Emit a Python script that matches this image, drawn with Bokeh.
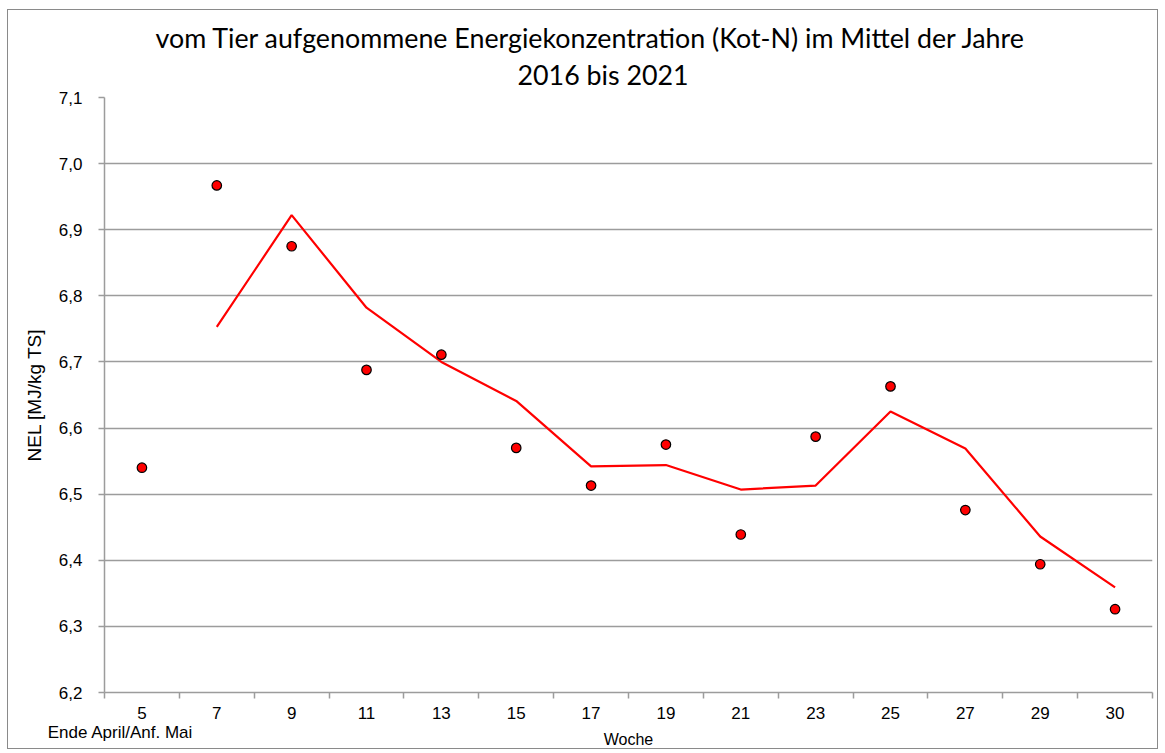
from bokeh.plotting import figure
from bokeh.models import (FixedTicker, CustomJSTickFormatter, Range1d, Title,
                          ColumnDataSource, LinearAxis)
from bokeh.embed import file_html
from bokeh.resources import INLINE

# ---- data ----
weeks = ["5", "7", "9", "11", "13", "15", "17", "19", "21", "23", "25", "27", "29", "30"]
nel_values = [6.540, 6.967, 6.875, 6.688, 6.711, 6.570, 6.513, 6.575,
              6.439, 6.587, 6.663, 6.476, 6.394, 6.326]
# gleitender Durchschnitt (2 Perioden), ab Woche 7
trend_weeks = ["7", "9", "11", "13", "15", "17", "19", "21", "23", "25", "27", "29", "30"]
trend_values = [6.753, 6.922, 6.782, 6.700, 6.641, 6.542, 6.544, 6.507,
                6.513, 6.625, 6.569, 6.436, 6.359]
y_ticks = [6.2, 6.3, 6.4, 6.5, 6.6, 6.7, 6.8, 6.9, 7.0, 7.1]

title_line1 = "vom Tier aufgenommene Energiekonzentration (Kot-N) im Mittel der Jahre"
title_line2 = "2016 bis 2021"
x_label = "Woche"
y_label = "NEL [MJ/kg TS]"
start_note = "Ende April/Anf. Mai"

# positions of categories on a numeric axis (category centres)
pos = {w: i + 0.5 for i, w in enumerate(weeks)}
src_pts = ColumnDataSource(dict(x=[pos[w] for w in weeks], y=nel_values))
src_line = ColumnDataSource(dict(x=[pos[w] for w in trend_weeks], y=trend_values))

W, H = 1151, 740
BL, BR, BT, BB = 96, 7, 87, 57
p = figure(width=W, height=H, output_backend="svg", toolbar_location=None,
           x_range=Range1d(0, len(weeks)), y_range=Range1d(6.2, 7.1),
           min_border_left=BL, min_border_right=BR, min_border_top=BT,
           min_border_bottom=BB, title=None)
p.styles = {"border": "1px solid #8a8a8a", "margin-left": "7px", "margin-top": "9px"}
p.outline_line_color = None
p.background_fill_color = "white"
p.border_fill_color = "white"

grid_col = "#9c9c9c"
axis_col = "#9c9c9c"
font = "Liberation Sans"

# x axis: labels at centres, ticks at category boundaries (minor ticks)
p.xaxis.ticker = FixedTicker(ticks=[pos[w] for w in weeks],
                             minor_ticks=list(range(len(weeks) + 1)))
p.xaxis.major_label_overrides = {pos[w]: w for w in weeks}
p.xaxis.major_tick_out = 0
p.xaxis.major_tick_in = 0
p.xaxis.minor_tick_out = 6
p.xaxis.minor_tick_in = 0
p.xaxis.minor_tick_line_color = axis_col
p.xaxis.minor_tick_line_width = 1.5
p.xaxis.axis_line_color = axis_col
p.xaxis.axis_line_width = 1.5
p.xaxis.major_label_standoff = 8
p.xaxis.major_label_text_font = font
p.xaxis.major_label_text_font_size = "17px"
p.xaxis.major_label_text_color = "black"
p.xgrid.grid_line_color = None

# second row below the axis: note under week 5 and the axis title
note_x = 0.214
ax2 = LinearAxis(ticker=FixedTicker(ticks=[note_x], minor_ticks=[]),
                 major_label_overrides={note_x: start_note},
                 axis_line_color=None, major_tick_line_color=None,
                 minor_tick_line_color=None, major_tick_out=0, major_tick_in=0,
                 major_label_standoff=1, major_label_text_font=font,
                 major_label_text_font_size="17px", major_label_text_color="black",
                 axis_label=x_label, axis_label_text_font=font,
                 axis_label_text_font_size="16px", axis_label_text_font_style="normal",
                 axis_label_text_color="black", axis_label_standoff=-14)
p.add_layout(ax2, "below")

# y axis
p.yaxis.ticker = FixedTicker(ticks=y_ticks)
p.yaxis.formatter = CustomJSTickFormatter(code="return tick.toFixed(1).replace('.', ',');")
p.yaxis.major_tick_out = 6
p.yaxis.major_tick_in = 0
p.yaxis.minor_tick_line_color = None
p.yaxis.major_tick_line_color = axis_col
p.yaxis.major_tick_line_width = 1.5
p.yaxis.axis_line_color = axis_col
p.yaxis.axis_line_width = 1.5
p.yaxis.major_label_standoff = 16
p.yaxis.major_label_text_font = font
p.yaxis.major_label_text_font_size = "17px"
p.yaxis.major_label_text_color = "black"
p.yaxis.axis_label = y_label
p.yaxis.axis_label_text_font = font
p.yaxis.axis_label_text_font_size = "19px"
p.yaxis.axis_label_text_font_style = "normal"
p.yaxis.axis_label_text_color = "black"
p.yaxis.axis_label_standoff = 11
p.ygrid.grid_line_color = grid_col
p.ygrid.grid_line_width = 1.5

# data
p.line("x", "y", source=src_line, line_color="#ff0000", line_width=2.2)
p.scatter("x", "y", source=src_pts, size=9.5, fill_color="#ff0000",
          line_color="black", line_width=1.2)

# title (two lines); the one added first sits closest to the plot
p.add_layout(Title(text=title_line2, align="left", offset=413, standoff=13,
                   text_font="Lato", text_font_size="26.8px",
                   text_font_style="normal", text_color="black"), "above")
p.add_layout(Title(text=title_line1, align="left", offset=51, standoff=-7,
                   text_font="Lato", text_font_size="26.8px",
                   text_font_style="normal", text_color="black"), "above")

open("out.html", "w").write(file_html(p, INLINE))
